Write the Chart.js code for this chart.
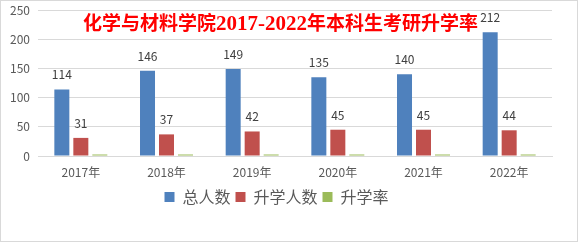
<!DOCTYPE html>
<html lang="zh">
<head>
<meta charset="UTF-8">
<title>化学与材料学院2017-2022年本科生考研升学率</title>
<script src="https://cdn.jsdelivr.net/npm/chart.js"></script>
<style>
    body { margin: 0; background: #fff; }
    .frame {
        position: relative;
        width: 578px;
        height: 242px;
        border: 1px solid #d9d9d9;
        box-sizing: border-box;
    }
    .title {
        position: absolute;
        left: 82px;
        top: 13px;
        font: bold 19px/19px "Liberation Serif", "Noto Sans CJK SC", serif;
        color: #ff0000;
        white-space: nowrap;
    }
    .title span { font-size: 21px; }
</style>
</head>
<body>
<div class="frame">
    <canvas id="chart" width="576" height="240"></canvas>
    <div class="title">化学与材料学院<span>2017-2022</span>年本科生考研升学率</div>
</div>
<script>
    // data
    const years = ['2017年', '2018年', '2019年', '2020年', '2021年', '2022年'];
    const totalCount = [114, 146, 149, 135, 140, 212];
    const admitCount = [31, 37, 42, 45, 45, 44];
    const admitRate = [0.27, 0.25, 0.28, 0.33, 0.32, 0.21];

    const textColor = '#595959';
    const gridColor = '#d9d9d9';

    // value labels above the first two series
    const valueLabels = {
        id: 'valueLabels',
        afterDatasetsDraw(chart) {
            const ctx = chart.ctx;
            ctx.save();
            ctx.font = '12px "Noto Sans CJK SC", sans-serif';
            ctx.fillStyle = '#404040';
            ctx.textAlign = 'center';
            ctx.textBaseline = 'alphabetic';
            [0, 1].forEach(i => {
                const meta = chart.getDatasetMeta(i);
                meta.data.forEach((bar, j) => {
                    ctx.fillText(chart.data.datasets[i].data[j], bar.x, bar.y - 10);
                });
            });
            ctx.restore();
        }
    };

    new Chart(document.getElementById('chart'), {
        type: 'bar',
        data: {
            labels: years,
            datasets: [
                {label: '总人数', data: totalCount, backgroundColor: '#4f81bd'},
                {label: '升学人数', data: admitCount, backgroundColor: '#c0504d'},
                {label: '升学率', data: admitRate, backgroundColor: '#9bbb59', minBarLength: 1.5}
            ]
        },
        options: {
            responsive: false,
            animation: false,
            categoryPercentage: 0.665,
            barPercentage: 0.79,
            layout: {padding: {left: 0, right: 25, top: 9, bottom: 26}},
            scales: {
                y: {
                    min: 0,
                    max: 250,
                    ticks: {stepSize: 50, color: textColor, padding: 0, font: {size: 12, family: '"Noto Sans CJK SC", sans-serif'}},
                    grid: {color: gridColor, drawTicks: true, tickLength: 8, tickColor: 'rgba(0,0,0,0)'},
                    border: {display: false},
                    afterFit(scale) { scale.width = 37; }
                },
                x: {
                    ticks: {color: textColor, padding: 9, font: {size: 12, family: '"Noto Sans CJK SC", sans-serif'}},
                    grid: {display: false, drawTicks: false},
                    border: {color: gridColor},
                    afterFit(scale) { scale.height = 28; }
                }
            },
            plugins: {
                legend: {
                    position: 'bottom',
                    labels: {
                        boxWidth: 10,
                        boxHeight: 10,
                        padding: 5,
                        color: textColor,
                        font: {size: 16, family: '"Noto Sans CJK SC", sans-serif'}
                    }
                },
                tooltip: {enabled: false}
            }
        },
        plugins: [valueLabels]
    });
</script>
</body>
</html>
